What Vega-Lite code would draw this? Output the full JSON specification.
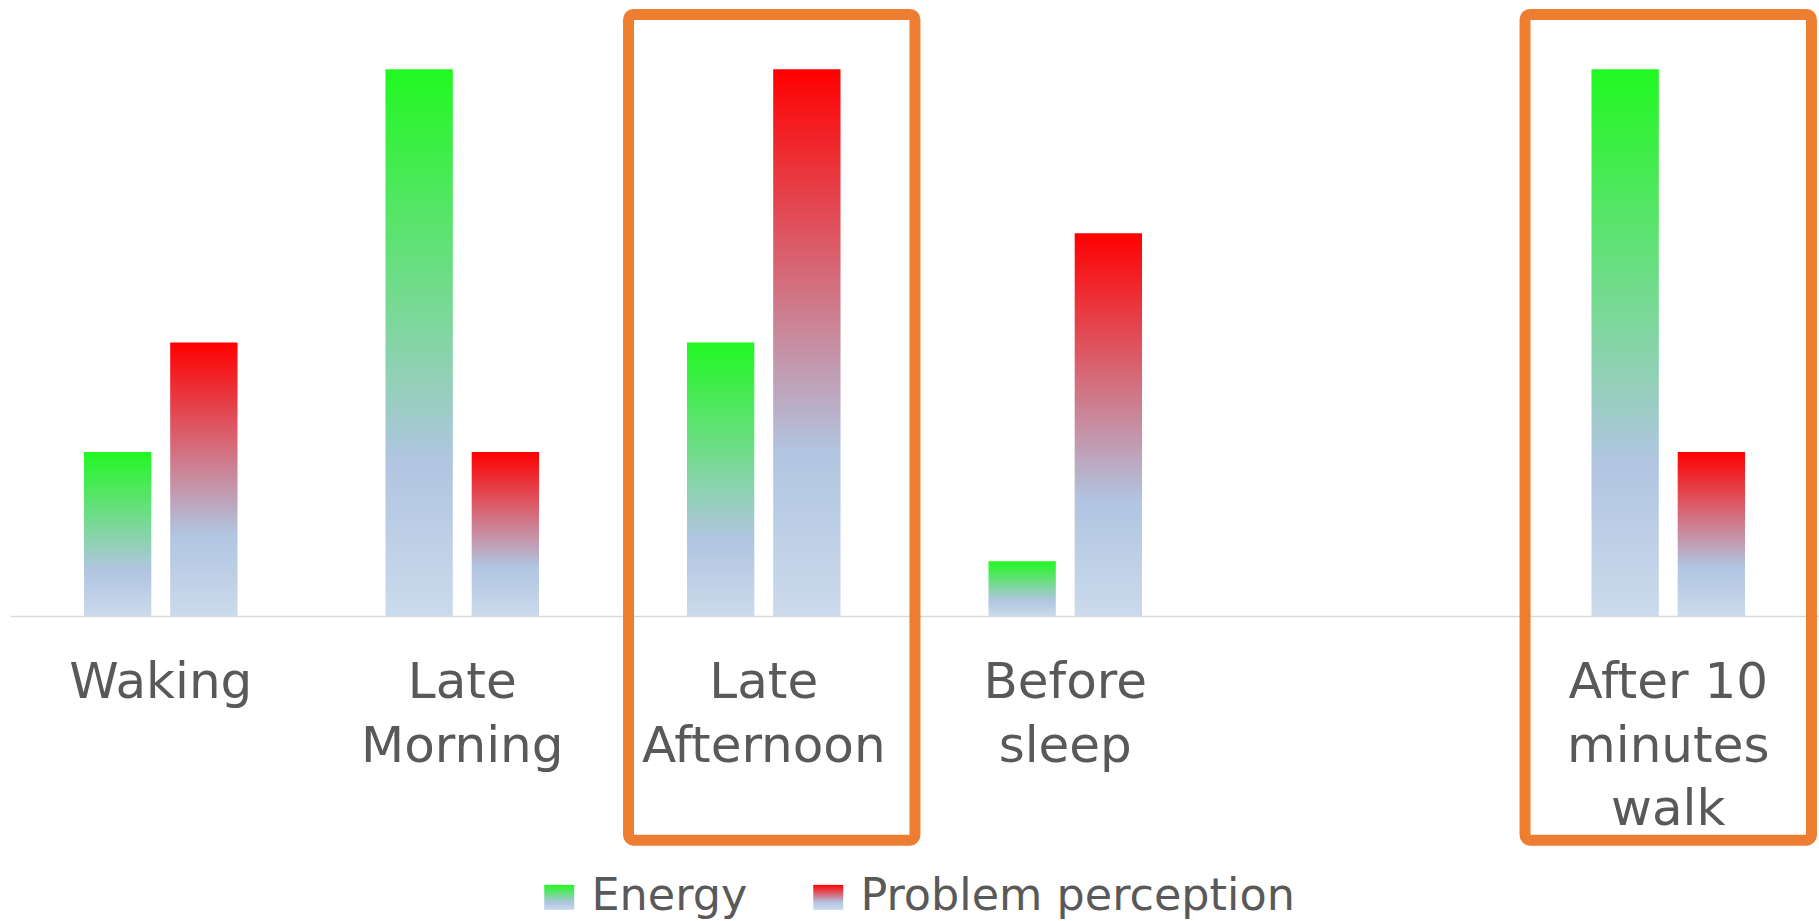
{
  "$schema": "https://vega.github.io/schema/vega-lite/v6.json",
  "width": 1809,
  "height": 616,
  "autosize": {"type": "none"},
  "padding": {"left": 10, "top": 0, "right": 0, "bottom": 305},
  "background": "white",
  "config": {"view": {"stroke": null}},
  "datasets": {
    "levels": [
      {"slot": "Waking", "series": "Energy", "value": 3},
      {"slot": "Waking", "series": "Problem perception", "value": 5},
      {"slot": "Late\nMorning", "series": "Energy", "value": 10},
      {"slot": "Late\nMorning", "series": "Problem perception", "value": 3},
      {"slot": "Late\nAfternoon", "series": "Energy", "value": 5},
      {"slot": "Late\nAfternoon", "series": "Problem perception", "value": 10},
      {"slot": "Before\nsleep", "series": "Energy", "value": 1},
      {"slot": "Before\nsleep", "series": "Problem perception", "value": 7},
      {"slot": "After 10\nminutes\nwalk", "series": "Energy", "value": 10},
      {"slot": "After 10\nminutes\nwalk", "series": "Problem perception", "value": 3}
    ],
    "highlighted": [
      {"slot": "Late\nAfternoon"},
      {"slot": "After 10\nminutes\nwalk"}
    ]
  },
  "layer": [
    {
      "data": {"name": "levels"},
      "mark": {"type": "bar", "strokeWidth": 0},
      "encoding": {
        "x": {
          "field": "slot",
          "type": "nominal",
          "sort": null,
          "scale": {
            "domain": ["Waking", "Late\nMorning", "Late\nAfternoon", "Before\nsleep", " ", "After 10\nminutes\nwalk"],
            "paddingInner": 0,
            "paddingOuter": 0
          },
          "axis": {
            "title": null,
            "domain": true,
            "domainColor": "#d9d9d9",
            "domainWidth": 1.5,
            "ticks": false,
            "grid": false,
            "labelAngle": 0,
            "labelFont": "DejaVu Sans",
            "labelFontSize": 50,
            "labelColor": "#595959",
            "labelPadding": 41.5,
            "labelLineHeight": 63.5,
            "labelLimit": 1000,
            "labelOverlap": false,
            "labelBound": false,
            "labelFlush": false,
            "labelExpr": "split(datum.label, '\\n')"
          }
        },
        "xOffset": {
          "field": "series",
          "type": "nominal",
          "scale": {"domain": ["Energy", "Problem perception"], "paddingInner": 0.219, "paddingOuter": 0.858}
        },
        "y": {
          "field": "value",
          "type": "quantitative",
          "scale": {"domain": [0, 11.266], "nice": false, "zero": true},
          "axis": null
        },
        "fill": {
          "field": "series",
          "type": "nominal",
          "scale": {
            "domain": ["Energy", "Problem perception"],
            "range": [
              {"expr": "{gradient: 'linear', x1: 0, y1: 0, x2: 0, y2: 1, stops: [{offset: 0, color: '#21f821'}, {offset: 0.72, color: '#b1c5e1'}, {offset: 1, color: '#cbdaec'}]}"},
              {"expr": "{gradient: 'linear', x1: 0, y1: 0, x2: 0, y2: 1, stops: [{offset: 0, color: '#ff0000'}, {offset: 0.7, color: '#b1c5e1'}, {offset: 1, color: '#cbdaec'}]}"}
            ]
          },
          "legend": {
            "orient": "none",
            "legendX": 527,
            "legendY": 875,
            "direction": "horizontal",
            "title": null,
            "padding": 0,
            "symbolType": "M-1.2,-1H1.2V1H-1.2Z",
            "symbolSize": 625,
            "symbolStrokeWidth": 0,
            "symbolOpacity": 1,
            "labelFont": "DejaVu Sans",
            "labelFontSize": 44.5,
            "labelColor": "#595959",
            "labelOffset": 10,
            "labelLimit": 1000,
            "columnPadding": 58
          }
        }
      }
    },
    {
      "data": {"name": "highlighted"},
      "transform": [{"filter": "datum.slot === 'Late\\nAfternoon'"}],
      "mark": {
        "type": "bar",
        "filled": false,
        "fill": null,
        "stroke": "#ed7d31",
        "strokeWidth": 11,
        "cornerRadius": 5,
        "width": {"band": 0.95},
        "xOffset": 8
      },
      "encoding": {
        "x": {"field": "slot", "type": "nominal", "sort": null},
        "y": {"datum": -4.1, "axis": null},
        "y2": {"datum": 11.0}
      }
    },
    {
      "data": {"name": "highlighted"},
      "transform": [{"filter": "datum.slot !== 'Late\\nAfternoon'"}],
      "mark": {
        "type": "bar",
        "filled": false,
        "fill": null,
        "stroke": "#ed7d31",
        "strokeWidth": 11,
        "cornerRadius": 5,
        "width": {"band": 0.95}
      },
      "encoding": {
        "x": {"field": "slot", "type": "nominal", "sort": null},
        "y": {"datum": -4.1, "axis": null},
        "y2": {"datum": 11.0}
      }
    }
  ]
}
